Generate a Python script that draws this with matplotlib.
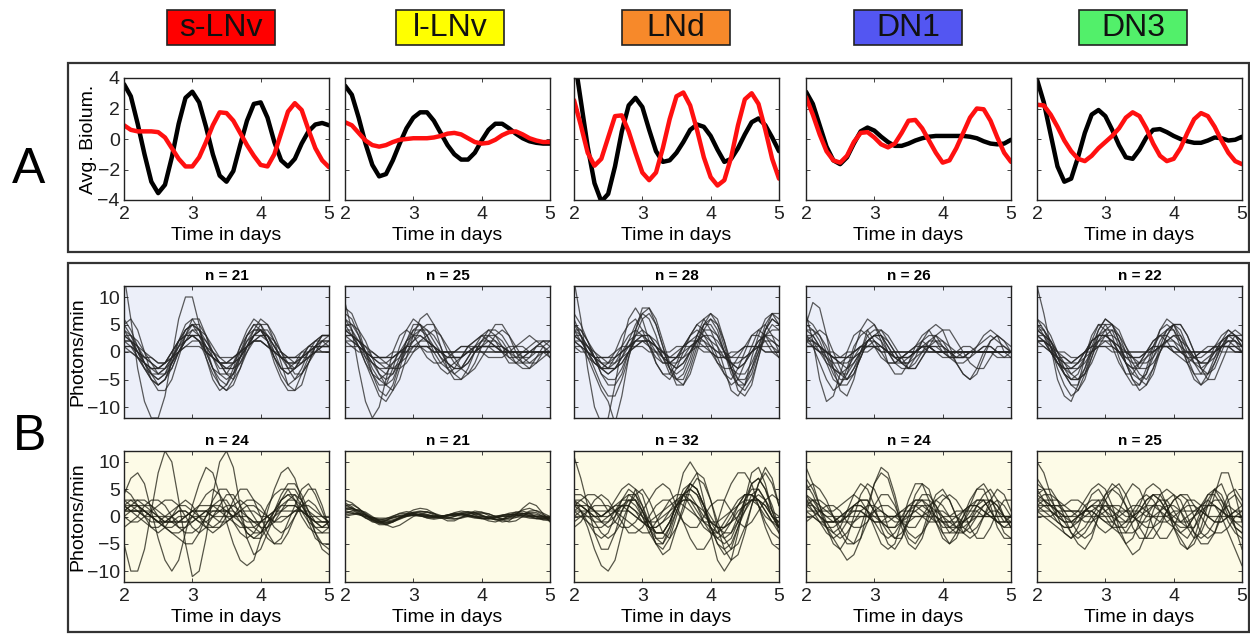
import matplotlib
matplotlib.use("Agg")
import matplotlib.pyplot as plt
from matplotlib.patches import Rectangle

plt.rcParams["font.family"] = ["Liberation Sans", "DejaVu Sans"]

W, H = 1250, 634

days = [2.0, 2.1, 2.2, 2.3, 2.4, 2.5, 2.6, 2.7, 2.8, 2.9, 3.0, 3.1, 3.2, 3.3, 3.4, 3.5,
        3.6, 3.7, 3.8, 3.9, 4.0, 4.1, 4.2, 4.3, 4.4, 4.5, 4.6, 4.7, 4.8, 4.9, 5.0]

cell_types = ["s-LNv", "l-LNv", "LNd", "DN1", "DN3"]
label_colors = ["#ff0000", "#ffff00", "#f7892a", "#5356f2", "#52f06a"]
n_top = [21, 25, 28, 26, 22]
n_bottom = [24, 21, 32, 24, 25]

# panel A: average bioluminescence, black = top row condition, red = bottom row condition
slnv_black = [3.6, 2.8, 1.0, -1.0, -2.8, -3.55, -3.0, -1.2, 1.0, 2.7, 3.1, 2.4, 0.8, -1.0, -2.4, -2.8,
              -2.1, -0.4, 1.2, 2.3, 2.4, 1.4, -0.2, -1.4, -1.8, -1.3, -0.3, 0.5, 0.95, 1.05, 0.9]
slnv_red = [0.9, 0.6, 0.5, 0.5, 0.5, 0.45, 0.1, -0.6, -1.3, -1.8, -1.8, -1.2, -0.2, 0.9, 1.75, 1.7,
            1.2, 0.4, -0.4, -1.1, -1.7, -1.8, -1.0, 0.4, 1.8, 2.35, 1.9, 0.6, -0.6, -1.4, -1.85]
llnv_black = [3.5, 2.9, 1.4, -0.3, -1.7, -2.45, -2.3, -1.4, -0.3, 0.7, 1.4, 1.75, 1.75, 1.2, 0.4, -0.4,
              -1.0, -1.35, -1.35, -0.9, -0.1, 0.6, 1.0, 1.0, 0.7, 0.35, 0.05, -0.15, -0.25, -0.3, -0.3]
llnv_red = [1.1, 0.9, 0.4, -0.1, -0.4, -0.5, -0.4, -0.2, -0.05, 0.0, 0.05, 0.05, 0.05, 0.1, 0.2, 0.35,
            0.4, 0.3, 0.05, -0.2, -0.3, -0.25, -0.05, 0.25, 0.45, 0.5, 0.3, 0.05, -0.1, -0.2, -0.2]
lnd_black = [5.5, 2.5, -0.5, -2.9, -4.1, -3.6, -1.8, 0.5, 2.2, 2.7, 2.1, 0.6, -0.8, -1.5, -1.4, -0.9,
             -0.2, 0.6, 0.95, 0.8, 0.2, -0.7, -1.5, -1.3, -0.6, 0.3, 1.1, 1.35, 0.9, 0.1, -0.8]
lnd_red = [2.55, 0.9, -0.9, -1.75, -1.3, 0.1, 1.5, 1.55, 0.5, -0.9, -2.2, -2.7, -2.2, -0.6, 1.3, 2.8,
           3.05, 2.2, 0.6, -1.2, -2.5, -3.05, -2.7, -1.2, 0.9, 2.6, 3.0, 2.3, 0.6, -1.3, -2.6]
dn1_black = [3.1, 2.3, 0.9, -0.5, -1.4, -1.65, -1.2, -0.3, 0.5, 0.75, 0.55, 0.15, -0.2, -0.45, -0.45, -0.3,
             -0.1, 0.05, 0.15, 0.2, 0.2, 0.2, 0.2, 0.2, 0.15, 0.05, -0.15, -0.3, -0.35, -0.3, -0.05]
dn1_red = [2.75, 1.6, 0.3, -0.8, -1.4, -1.55, -1.1, -0.2, 0.4, 0.45, 0.1, -0.35, -0.55, -0.3, 0.4, 1.2,
           1.25, 0.7, -0.1, -0.9, -1.55, -1.4, -0.6, 0.4, 1.4, 2.0, 1.95, 1.2, 0.1, -0.9, -1.5]
dn3_black = [3.9, 2.4, 0.3, -1.8, -2.8, -2.6, -1.2, 0.4, 1.6, 1.9, 1.5, 0.6, -0.4, -1.2, -1.3, -0.7,
             0.1, 0.6, 0.65, 0.45, 0.2, 0.0, -0.15, -0.25, -0.25, -0.1, 0.1, 0.05, -0.1, -0.05, 0.15]
dn3_red = [2.25, 2.2, 1.6, 0.8, -0.1, -0.8, -1.3, -1.45, -1.1, -0.6, -0.2, 0.2, 0.7, 1.4, 1.75, 1.5,
           0.7, -0.3, -1.1, -1.45, -1.3, -0.6, 0.4, 1.3, 1.7, 1.5, 0.8, -0.1, -0.9, -1.45, -1.65]

avg_black = [slnv_black, llnv_black, lnd_black, dn1_black, dn3_black]
avg_red = [slnv_red, llnv_red, lnd_red, dn1_red, dn3_red]

# panel B, top row: individual traces (photons/min)
slnv_top = [
    [14, 6, -3, -9, -12, -12, -8, -1, 6, 10, 10, 5, -1, -5, -7, -6, -3, 1, 4, 6, 5, 2, -2, -5, -7, -7, -4, -1, 1, 2, 2],
    [5, 6, 4, 0, -4, -6, -5, -2, 2, 5, 6, 4, 0, -3, -5, -6, -4, 0, 3, 5, 5, 3, 0, -3, -4, -3, -1, 1, 2, 3, 3],
    [3, 2, 0, -2, -4, -5, -4, -1, 2, 4, 5, 3, 0, -3, -4, -4, -2, 1, 3, 4, 4, 2, -1, -3, -4, -3, -1, 1, 2, 2, 1],
    [2, 1, -1, -3, -4, -4, -3, -1, 1, 3, 4, 3, 1, -1, -3, -3, -2, 0, 2, 3, 3, 2, 0, -1, -2, -2, -1, 0, 1, 1, 1],
    [1, 1, 0, -1, -2, -3, -3, -2, 0, 2, 3, 3, 1, -1, -2, -3, -3, -1, 1, 3, 4, 3, 1, -1, -2, -3, -2, -1, 0, 1, 1],
    [4, 3, 1, -2, -5, -7, -7, -5, -1, 3, 6, 6, 3, -1, -4, -5, -4, -1, 2, 4, 4, 2, -1, -4, -6, -5, -3, 0, 2, 3, 3],
    [1, 1, 0, -1, -1, -2, -2, -1, 0, 1, 2, 2, 1, 0, -1, -1, -1, 0, 1, 2, 2, 1, 0, -1, -1, -1, -1, 0, 0, 1, 1],
    [3, 2, 0, -2, -3, -3, -2, 0, 2, 3, 3, 2, -1, -4, -6, -7, -5, -1, 3, 5, 4, 2, -1, -3, -3, -2, 0, 1, 1, 0, 0],
    [6, 4, 1, -2, -4, -5, -4, -2, 0, 2, 4, 4, 3, 1, -1, -2, -2, -1, 1, 3, 4, 4, 2, 0, -2, -4, -4, -2, 1, 3, 3],
    [2, 2, 1, 0, -1, -2, -2, -1, 0, 1, 1, 1, 0, -1, -2, -2, -1, 0, 1, 2, 2, 1, 0, 0, -1, -1, -1, -1, 0, 0, 0],
    [4, 2, -1, -3, -5, -6, -5, -2, 1, 4, 5, 4, 1, -3, -6, -7, -6, -3, 1, 4, 6, 5, 2, -2, -6, -7, -6, -2, 1, 3, 3],
    [0, 0, -1, -2, -3, -3, -2, 0, 2, 4, 5, 4, 2, 0, -2, -3, -3, -2, 0, 2, 3, 3, 2, 0, -1, -2, -2, -1, 0, 0, 0],
    [3, 3, 2, 0, -2, -4, -4, -3, 0, 3, 5, 5, 3, 0, -2, -4, -4, -2, 1, 3, 4, 3, 1, -1, -3, -3, -2, 0, 1, 2, 2],
    [1, 0, -1, -2, -3, -4, -3, -1, 1, 2, 3, 2, 0, -1, -2, -2, -2, -1, 1, 2, 3, 3, 1, -1, -2, -2, -1, 0, 1, 1, 2],
    [5, 3, 0, -3, -5, -6, -5, -3, 0, 2, 3, 3, 2, 0, -2, -4, -5, -3, 0, 3, 5, 5, 3, 0, -3, -5, -4, -2, 0, 2, 3],
    [2, 2, 1, -1, -2, -3, -2, 0, 2, 3, 3, 2, 0, -1, -2, -2, -1, 0, 1, 2, 2, 1, 0, -1, -1, -1, 0, 0, 1, 1, 1],
]
llnv_top = [
    [9, 4, -3, -9, -12, -10, -5, 0, 3, 4, 3, 1, -1, -2, -2, -1, 0, 1, 1, 0, 0, 0, 0, 0, 0, 0, 0, 0, 0, 0, 0],
    [7, 6, 3, -1, -4, -6, -6, -3, 1, 4, 6, 5, 2, -1, -3, -4, -3, -1, 1, 2, 3, 3, 2, 0, -2, -2, -1, 0, 1, 1, 0],
    [5, 5, 4, 2, -1, -4, -6, -7, -5, -1, 3, 6, 7, 5, 1, -3, -5, -5, -3, 0, 2, 4, 4, 3, 1, -1, -2, -2, -1, 0, 0],
    [3, 2, 1, 0, -1, -1, -1, 0, 0, 1, 1, 1, 0, 0, 0, 0, 0, 0, 0, 1, 1, 1, 0, 0, 0, 0, 0, 0, 0, 0, 0],
    [6, 5, 3, 0, -3, -5, -6, -5, -2, 1, 3, 4, 4, 3, 1, -2, -4, -5, -4, -2, 1, 3, 5, 5, 3, 0, -2, -3, -2, 0, 1],
    [4, 4, 2, 0, -2, -3, -4, -4, -2, 0, 2, 4, 5, 5, 3, 0, -2, -3, -2, 0, 1, 2, 2, 1, 0, -1, -1, 0, 1, 2, 2],
    [2, 2, 1, 0, -1, -2, -2, -1, 0, 1, 1, 1, 1, 0, 0, -1, -1, -1, 0, 1, 1, 1, 1, 0, 0, 0, 0, 0, 0, 0, 0],
    [8, 7, 4, 0, -4, -7, -8, -6, -2, 2, 5, 5, 3, 0, -2, -3, -2, -1, 1, 2, 3, 2, 1, 0, -1, -1, 0, 1, 2, 2, 1],
    [3, 3, 2, 1, 0, -1, -2, -3, -3, -2, 0, 2, 3, 4, 3, 1, -1, -3, -4, -3, -1, 1, 3, 4, 3, 1, -1, -2, -2, -1, 0],
    [1, 1, 1, 0, 0, -1, -1, -1, 0, 0, 1, 1, 1, 0, 0, 0, -1, -1, 0, 0, 1, 1, 1, 1, 0, 0, -1, -1, 0, 0, 0],
    [5, 3, 1, -2, -4, -5, -4, -2, 0, 2, 3, 3, 2, 1, -1, -2, -3, -3, -2, 0, 2, 3, 3, 2, 0, -2, -3, -3, -1, 1, 2],
    [4, 3, 1, -1, -2, -3, -3, -2, -1, 1, 2, 3, 2, 1, 0, -1, -1, -1, 0, 0, 1, 1, 1, 1, 0, 0, 0, 0, 0, 0, -1],
    [6, 4, 1, -2, -5, -8, -9, -7, -3, 1, 4, 5, 4, 2, 0, -2, -3, -3, -1, 1, 2, 2, 1, 0, 0, 0, 0, 0, 0, 0, 0],
    [2, 1, 0, 0, -1, -1, -1, -1, 0, 0, 0, 1, 1, 1, 0, 0, 0, 0, 0, 0, 0, 0, 0, 0, 1, 1, 1, 0, 0, 0, 0],
    [4, 3, 2, 0, -2, -4, -5, -4, -1, 2, 4, 4, 3, 1, -1, -3, -4, -3, -1, 1, 3, 4, 3, 1, -1, -2, -2, -1, 1, 2, 2],
    [3, 3, 2, 1, -1, -2, -3, -3, -2, -1, 1, 2, 2, 1, 0, 0, 0, 1, 1, 1, 0, -1, -1, -1, 0, 1, 2, 3, 2, 1, -1],
]
lnd_top = [
    [13, 6, -3, -10, -13, -12, -6, 1, 6, 8, 6, 2, -2, -4, -4, -2, 1, 3, 4, 3, 1, -2, -4, -5, -3, 0, 3, 4, 3, 1, -1],
    [6, 3, -1, -4, -7, -9, -13, -8, -1, 4, 7, 8, 6, 2, -2, -5, -6, -4, 0, 4, 6, 5, 2, -2, -5, -6, -4, 0, 4, 6, 5],
    [4, 3, 1, -1, -3, -4, -3, -1, 2, 5, 7, 6, 3, -1, -4, -5, -4, -1, 3, 6, 7, 5, 1, -3, -6, -7, -5, -1, 3, 5, 4],
    [3, 2, 0, -2, -3, -3, -2, 0, 2, 3, 3, 2, 0, -2, -2, -2, -1, 1, 2, 3, 2, 1, -1, -2, -3, -2, 0, 2, 3, 3, 2],
    [5, 4, 2, -1, -4, -6, -6, -4, 0, 4, 8, 8, 5, 1, -3, -6, -6, -3, 1, 5, 7, 6, 2, -3, -7, -8, -6, -1, 4, 7, 7],
    [2, 1, 0, -1, -2, -2, -1, 0, 1, 2, 2, 1, 0, -1, -1, 0, 1, 2, 2, 1, 0, -1, -1, -1, 0, 1, 1, 1, 0, 0, 0],
    [3, 3, 1, -1, -4, -5, -5, -3, 0, 2, 3, 3, 1, -1, -3, -4, -3, 0, 3, 5, 5, 3, 0, -3, -4, -4, -2, 1, 4, 6, 5],
    [1, 1, 0, -1, -1, -2, -2, -1, 0, 1, 2, 2, 1, 0, -1, -1, -1, 0, 1, 1, 1, 0, 0, -1, -1, -1, 0, 1, 1, 1, 0],
    [4, 2, 0, -2, -3, -2, 0, 3, 5, 6, 4, 1, -2, -4, -5, -3, 0, 3, 5, 4, 2, -1, -4, -6, -5, -2, 1, 4, 5, 3, 0],
    [2, 2, 1, 0, -1, -1, -1, 0, 1, 2, 2, 2, 1, -1, -2, -3, -2, 0, 2, 3, 3, 2, 0, -2, -3, -2, 0, 2, 3, 2, 1],
    [7, 5, 2, -1, -3, -4, -3, -1, 1, 3, 4, 3, 1, -1, -2, -1, 1, 3, 5, 6, 4, 1, -3, -7, -8, -6, -1, 3, 6, 7, 5],
    [3, 2, 1, -1, -2, -3, -3, -2, 0, 1, 2, 2, 1, 0, -1, -1, 0, 1, 2, 2, 1, 0, -1, -2, -2, -1, 0, 1, 2, 2, 1],
    [5, 3, 0, -3, -6, -8, -8, -5, -1, 3, 6, 7, 5, 1, -3, -5, -5, -2, 2, 5, 6, 4, 0, -4, -6, -6, -3, 1, 5, 7, 6],
    [2, 1, -1, -2, -3, -3, -1, 1, 3, 4, 3, 1, -1, -2, -2, -1, 1, 2, 3, 2, 0, -2, -3, -3, -1, 1, 3, 3, 2, 0, -1],
    [4, 4, 2, 0, -2, -3, -3, -2, 0, 2, 3, 3, 2, 0, -2, -3, -2, 0, 2, 4, 4, 3, 0, -3, -5, -5, -3, 0, 3, 4, 4],
    [1, 0, 0, -1, -1, -1, 0, 1, 1, 1, 1, 0, 0, 0, 0, 1, 1, 1, 1, 0, 0, -1, -1, 0, 0, 1, 1, 1, 0, 0, 0],
]
dn1_top = [
    [5, 9, 8, 3, -3, -7, -8, -5, 0, 4, 5, 3, 0, -2, -2, -1, 0, 1, 1, 0, 0, 0, 0, 0, 0, 0, 0, 0, 0, 0, 0],
    [7, 2, -5, -9, -8, -4, 0, 3, 4, 3, 1, -1, -2, -2, -1, 0, 1, 1, 0, 0, 0, 0, 0, 0, 0, 0, 0, 0, 0, 0, 0],
    [3, 3, 1, -2, -5, -6, -4, 0, 4, 6, 5, 2, -2, -4, -4, -2, 1, 3, 4, 2, 0, -1, -1, 0, 0, 0, 0, 0, -1, -1, 0],
    [2, 1, 0, -1, -2, -2, -1, 0, 1, 1, 1, 0, 0, 0, 0, 0, 0, 0, 0, 0, 0, 0, 0, 0, 0, 0, 0, 0, 0, 0, 0],
    [4, 3, 1, -1, -3, -4, -4, -2, 0, 2, 3, 3, 2, 0, -2, -3, -2, 0, 2, 3, 2, 0, -2, -4, -5, -4, -1, 2, 3, 2, 0],
    [1, 1, 0, 0, -1, -1, -1, 0, 1, 1, 1, 1, 0, 0, 0, 0, 0, 1, 1, 1, 0, 0, 0, 0, 0, 0, 0, 0, 0, 0, 0],
    [6, 5, 3, 0, -3, -5, -5, -3, 0, 3, 4, 4, 2, 0, -2, -3, -3, -1, 1, 3, 4, 4, 2, 0, -2, -3, -3, -1, 1, 1, 0],
    [3, 2, 0, -2, -3, -4, -3, -1, 1, 2, 2, 1, 0, -1, -1, -1, 0, 1, 2, 2, 1, 0, -1, -1, 0, 1, 2, 3, 2, 1, 0],
    [2, 3, 4, 3, 0, -3, -5, -4, -1, 2, 3, 2, 0, -2, -3, -3, -1, 2, 4, 5, 4, 1, -2, -4, -5, -3, 0, 2, 3, 2, 1],
    [1, 1, 1, 0, 0, -1, -1, -1, 0, 0, 1, 1, 0, 0, 0, 0, 0, 0, 0, 0, 0, 0, 0, 0, 0, 0, 0, 0, 0, 0, 0],
    [4, 4, 3, 1, -2, -4, -5, -3, -1, 2, 3, 4, 3, 1, -1, -3, -3, -1, 1, 2, 2, 1, 0, -1, -1, 1, 3, 4, 3, 0, -1],
    [2, 2, 1, 0, -1, -2, -2, -1, 0, 1, 2, 1, 0, -1, -1, -1, 0, 1, 1, 0, 0, -1, -1, -1, 0, 0, 1, 1, 0, -1, -1],
    [3, 1, -2, -5, -7, -6, -3, 1, 3, 4, 2, 0, -2, -2, -1, 0, 1, 2, 1, 0, -1, -1, 0, 1, 1, 0, 0, 0, 0, 0, 0],
    [2, 2, 1, 0, -1, -2, -3, -2, 0, 2, 3, 3, 1, -1, -2, -2, -1, 0, 1, 1, 1, 0, 0, 0, 0, 0, 0, 0, 0, 0, 0],
    [5, 4, 2, -1, -4, -6, -6, -4, -1, 2, 3, 3, 1, -1, -2, -2, 0, 2, 3, 3, 1, -1, -2, -2, -1, 0, 0, 0, 0, 0, 0],
    [1, 1, 0, 0, -1, -1, 0, 0, 1, 1, 1, 0, 0, -1, -1, 0, 0, 1, 1, 0, 0, 0, -1, -1, 0, 0, 1, 1, 0, 0, 0],
]
dn3_top = [
    [12, 7, 1, -5, -8, -9, -6, -1, 3, 5, 4, 1, -2, -4, -4, -2, 0, 2, 3, 2, 0, -1, -2, -1, 0, 1, 1, 0, 0, 0, 0],
    [5, 4, 2, -1, -4, -6, -6, -3, 1, 4, 6, 5, 2, -2, -5, -6, -4, 0, 4, 6, 5, 2, -2, -5, -6, -4, -1, 2, 4, 3, 1],
    [3, 2, 0, -2, -3, -3, -2, 0, 2, 3, 3, 2, 0, -2, -3, -2, 0, 2, 3, 3, 2, 0, -1, -2, -2, -1, 0, 1, 2, 2, 1],
    [6, 5, 3, 0, -3, -5, -5, -4, -1, 2, 4, 5, 4, 1, -2, -4, -5, -3, 0, 3, 5, 5, 3, 0, -3, -4, -3, 0, 3, 4, 3],
    [2, 1, 0, -1, -2, -2, -1, 0, 1, 2, 2, 1, 0, -1, -1, -1, 0, 1, 1, 1, 0, 0, -1, -1, 0, 0, 1, 1, 1, 0, 0],
    [4, 3, 1, -2, -4, -5, -4, -1, 2, 5, 5, 3, -1, -4, -6, -6, -3, 1, 4, 5, 4, 1, -2, -4, -4, -2, 1, 3, 4, 3, 1],
    [1, 1, 0, -1, -1, -2, -1, 0, 1, 1, 1, 1, 0, 0, -1, -1, 0, 0, 1, 1, 1, 0, 0, 0, 0, 0, 0, 1, 1, 1, 0],
    [3, 3, 2, 0, -2, -4, -5, -4, -2, 1, 3, 4, 3, 1, -1, -3, -3, -2, 0, 2, 3, 3, 1, -1, -2, -2, 0, 2, 3, 2, 0],
    [2, 2, 1, -1, -3, -4, -3, -1, 2, 3, 3, 2, 0, -2, -3, -3, -1, 1, 3, 4, 4, 2, -1, -4, -6, -5, -2, 1, 3, 3, 2],
    [5, 3, 0, -2, -3, -3, -2, 0, 2, 3, 3, 2, 1, -1, -2, -2, -1, 0, 1, 2, 2, 1, 0, -1, -1, 0, 1, 2, 2, 1, 0],
    [2, 2, 1, 0, 0, -1, -1, 0, 0, 1, 1, 0, 0, 0, 0, 0, 0, 0, 1, 1, 0, 0, 0, 0, 0, 0, 0, 1, 1, 1, 1],
    [4, 4, 2, -1, -4, -6, -7, -5, -1, 3, 5, 5, 3, 0, -3, -5, -6, -4, 0, 3, 5, 5, 3, 0, -3, -5, -5, -2, 1, 3, 3],
    [6, 4, 1, -3, -6, -8, -7, -4, 0, 4, 6, 5, 2, -2, -4, -5, -4, -1, 2, 4, 5, 3, 0, -2, -3, -2, 0, 2, 3, 3, 2],
    [3, 2, 1, -1, -2, -3, -3, -2, 0, 2, 3, 3, 2, 0, -1, -2, -2, -1, 1, 2, 3, 2, 1, -1, -2, -2, -1, 1, 2, 2, 1],
    [2, 2, 0, -2, -4, -5, -5, -3, 0, 3, 4, 4, 1, -2, -5, -7, -6, -3, 1, 4, 5, 4, 1, -2, -4, -4, -2, 1, 3, 3, 2],
    [4, 3, 2, 0, -1, -2, -2, -1, 0, 1, 2, 2, 1, 0, 0, 0, 0, 1, 1, 1, 1, 0, 0, 0, 0, 0, 1, 1, 1, 0, 0],
]

# panel B, bottom row
slnv_bottom = [
    [-5, -10, -10, -6, 1, 8, 12, 10, 3, -5, -11, -10, -4, 4, 10, 12, 9, 2, -4, -7, -6, -3, 0, 3, 4, 3, 1, -1, -2, -2, -1],
    [4, 7, 8, 6, 1, -4, -8, -10, -8, -3, 2, 6, 9, 8, 4, -1, -5, -8, -9, -8, -4, 1, 5, 8, 9, 7, 3, -1, -4, -5, -5],
    [2, 2, 2, 1, 0, -1, -2, -2, -1, 0, 1, 2, 2, 2, 1, 0, -1, -2, -2, -2, -1, 0, 1, 2, 2, 2, 1, 0, -1, -1, -1],
    [1, 1, 1, 1, 0, 0, -1, -1, -1, -1, 0, 0, 1, 1, 1, 1, 0, 0, -1, -1, -1, 0, 1, 1, 2, 2, 1, 0, -1, -1, -1],
    [3, 3, 2, 1, 0, -1, -2, -3, -4, -5, -5, -3, 0, 3, 5, 5, 3, 0, -3, -4, -4, -2, 1, 4, 6, 6, 4, 1, -3, -6, -7],
    [0, 1, 2, 2, 2, 1, 0, -1, -2, -2, -1, 0, 1, 2, 2, 1, 0, -1, -2, -3, -3, -1, 1, 3, 4, 4, 2, 0, -2, -3, -3],
    [1, 2, 3, 3, 2, 0, -2, -3, -3, -2, 0, 2, 4, 5, 4, 2, -1, -3, -4, -3, -1, 2, 4, 5, 5, 3, 0, -2, -3, -3, -2],
    [2, 1, 0, -1, -2, -2, -1, 0, 1, 1, 0, -1, -2, -2, -1, 1, 2, 3, 2, 0, -2, -4, -5, -4, -1, 2, 5, 6, 4, 1, -2],
    [1, 1, 1, 1, 1, 0, 0, 0, -1, -1, -1, 0, 0, 1, 1, 1, 1, 0, 0, -1, -1, -1, 0, 1, 1, 1, 1, 0, 0, -1, -1],
    [0, -1, -1, 0, 1, 2, 3, 3, 2, 0, -2, -3, -2, 0, 2, 4, 4, 2, 0, -2, -3, -2, 0, 2, 3, 3, 2, 0, -1, -2, -1],
    [3, 2, 1, 0, -1, -1, 0, 1, 2, 2, 1, 0, -1, -2, -2, -1, 0, 2, 3, 3, 2, 0, -2, -3, -2, 0, 2, 3, 2, 0, -1],
    [2, 3, 3, 2, 1, 0, -1, -1, -1, 0, 1, 1, 1, 0, -1, -1, 0, 1, 2, 2, 1, 0, -1, -1, 0, 1, 2, 2, 1, 0, 0],
    [1, 2, 2, 1, 0, -1, -1, 0, 1, 1, 0, -1, -1, 0, 1, 2, 2, 1, 0, -1, -2, -2, -1, 1, 3, 4, 3, 1, -1, -2, -2],
    [-2, -1, 0, 2, 3, 3, 2, 0, -2, -3, -3, -2, 0, 2, 3, 3, 1, -1, -3, -4, -3, -1, 1, 3, 5, 5, 3, 0, -3, -5, -6],
    [2, 1, 1, 0, 0, -1, -1, -1, 0, 0, 1, 1, 1, 0, 0, 0, 0, 1, 1, 1, 0, 0, -1, 0, 0, 1, 1, 1, 0, 0, -1],
    [5, 4, 2, 0, -2, -3, -2, 0, 2, 3, 2, 0, -2, -3, -2, 0, 3, 5, 5, 3, 0, -3, -5, -5, -3, 0, 3, 5, 5, 2, -2],
]
llnv_bottom = [
    [1.5, 1.2, 0.5, -0.3, -0.8, -1.0, -0.7, -0.2, 0.2, 0.4, 0.5, 0.4, 0.2, 0.0, 0.0, 0.3, 0.6, 0.6, 0.3, 0.0, -0.3, -0.4, -0.3, 0.0, 0.3, 0.5, 0.5, 0.2, 0.0, -0.2, -0.2],
    [3.0, 2.5, 1.5, 0.3, -0.8, -1.5, -1.5, -1.0, -0.3, 0.3, 0.8, 1.0, 0.8, 0.3, -0.2, -0.3, 0.0, 0.5, 0.8, 0.7, 0.3, -0.2, -0.6, -0.6, -0.2, 0.5, 1.2, 1.5, 1.0, 0.3, -0.3],
    [0.5, 1.0, 1.2, 0.8, 0.0, -0.8, -1.5, -2.0, -1.6, -0.8, 0.0, 0.5, 0.8, 0.6, 0.2, -0.2, -0.4, -0.3, 0.0, 0.4, 0.6, 0.5, 0.0, -0.6, -1.0, -0.8, 0.0, 0.8, 0.7, 0.0, -0.8],
    [1.0, 0.8, 0.4, 0.0, -0.3, -0.5, -0.5, -0.3, 0.0, 0.2, 0.3, 0.3, 0.2, 0.1, 0.1, 0.2, 0.3, 0.3, 0.2, 0.1, 0.0, -0.1, -0.1, 0.0, 0.1, 0.2, 0.2, 0.1, 0.0, 0.0, -0.1],
    [2.0, 2.2, 1.5, 0.5, -0.5, -1.2, -1.5, -1.0, -0.3, 0.5, 1.2, 1.5, 1.3, 0.6, -0.2, -0.8, -0.8, -0.2, 0.5, 1.0, 0.8, 0.2, -0.5, -1.0, -0.8, 0.2, 1.5, 2.5, 2.0, 0.5, -1.0],
    [0.0, 0.3, 0.5, 0.3, -0.2, -0.6, -0.8, -0.6, -0.2, 0.0, 0.2, 0.1, -0.1, -0.2, 0.0, 0.3, 0.5, 0.4, 0.0, -0.3, -0.4, -0.3, 0.0, 0.3, 0.4, 0.3, 0.0, -0.3, -0.4, -0.3, -0.2],
    [1.5, 1.5, 1.0, 0.3, -0.5, -1.0, -1.2, -1.0, -0.5, 0.0, 0.3, 0.4, 0.3, 0.1, -0.1, 0.0, 0.3, 0.7, 0.9, 0.7, 0.2, -0.3, -0.6, -0.6, -0.3, 0.1, 0.5, 0.6, 0.4, 0.0, -0.4],
    [2.5, 1.8, 0.8, -0.2, -1.0, -1.2, -0.8, 0.0, 0.6, 0.9, 0.7, 0.2, -0.3, -0.5, -0.3, 0.2, 0.7, 1.0, 0.8, 0.3, -0.3, -0.8, -1.0, -0.6, 0.2, 0.8, 1.0, 0.6, -0.1, -0.6, -0.8],
    [0.8, 0.6, 0.3, 0.0, -0.2, -0.3, -0.3, -0.1, 0.1, 0.2, 0.2, 0.1, 0.0, 0.0, 0.1, 0.2, 0.2, 0.1, 0.0, -0.1, -0.1, 0.0, 0.1, 0.1, 0.0, -0.1, -0.1, 0.0, 0.1, 0.1, 0.0],
    [1.2, 1.4, 1.2, 0.6, -0.2, -0.8, -1.0, -0.8, -0.4, 0.1, 0.6, 0.9, 0.9, 0.5, 0.0, -0.4, -0.5, -0.2, 0.3, 0.7, 0.8, 0.5, 0.0, -0.4, -0.5, -0.2, 0.4, 1.0, 1.1, 0.6, 0.0],
    [1.8, 1.6, 1.0, 0.2, -0.6, -1.2, -1.3, -0.9, -0.2, 0.4, 0.7, 0.7, 0.4, 0.0, -0.3, -0.3, 0.0, 0.4, 0.6, 0.5, 0.1, -0.3, -0.5, -0.4, 0.0, 0.4, 0.6, 0.4, 0.0, -0.3, -0.5],
    [0.3, 0.5, 0.6, 0.3, -0.3, -0.9, -1.1, -0.8, -0.2, 0.3, 0.5, 0.3, 0.0, -0.2, -0.2, 0.1, 0.4, 0.5, 0.3, -0.1, -0.4, -0.5, -0.2, 0.2, 0.6, 0.8, 0.6, 0.1, -0.4, -0.6, -0.5],
    [2.2, 1.5, 0.6, -0.2, -0.6, -0.7, -0.4, 0.1, 0.5, 0.6, 0.4, 0.1, -0.2, -0.3, -0.1, 0.2, 0.4, 0.4, 0.2, -0.1, -0.3, -0.3, -0.1, 0.2, 0.4, 0.4, 0.2, -0.1, -0.3, -0.4, -0.3],
]
lnd_bottom = [
    [11, 7, 2, -3, -6, -6, -3, 1, 4, 4, 2, -1, -3, -3, -1, 2, 4, 4, 2, -1, -3, -4, -3, -1, 2, 4, 4, 2, -1, -3, -4],
    [3, 1, -2, -6, -9, -10, -8, -3, 2, 5, 4, 0, -4, -5, -2, 3, 8, 10, 8, 3, -3, -8, -10, -8, -3, 3, 8, 9, 6, 1, -3],
    [2, 3, 4, 4, 3, 1, -1, -2, -2, -1, 1, 3, 5, 6, 5, 2, -1, -4, -6, -6, -4, -1, 3, 6, 8, 8, 6, 2, -2, -5, -6],
    [1, 1, 0, -1, -1, 0, 1, 2, 2, 1, -1, -2, -2, -1, 1, 3, 4, 3, 1, -1, -2, -3, -2, 0, 2, 4, 4, 3, 1, -1, -2],
    [4, 4, 3, 1, 0, 1, 3, 5, 6, 5, 2, -2, -5, -6, -4, 0, 4, 6, 5, 2, -2, -5, -7, -6, -2, 2, 6, 7, 5, 2, -2],
    [0, 0, 0, 0, 0, 1, 1, 2, 2, 1, 0, -1, -1, 0, 1, 2, 3, 3, 2, 0, -1, -2, -2, -1, 1, 2, 3, 3, 2, 0, -1],
    [2, 2, 1, -1, -3, -4, -3, -1, 2, 4, 5, 3, 0, -3, -4, -2, 1, 5, 7, 6, 3, -1, -4, -6, -5, -2, 2, 6, 8, 6, 2],
    [-1, 0, 1, 2, 2, 2, 1, 0, -1, -2, -3, -3, -1, 1, 3, 4, 4, 2, 0, -2, -3, -3, -1, 1, 3, 4, 4, 3, 1, -1, -3],
    [1, 2, 2, 1, -1, -2, -1, 1, 3, 3, 1, -2, -4, -4, -2, 1, 4, 5, 4, 1, -2, -5, -6, -5, -2, 1, 4, 5, 3, 0, -2],
    [3, 2, 1, 0, 0, 1, 2, 2, 1, 0, -1, -1, 0, 1, 2, 3, 2, 1, 0, -1, -1, -1, 0, 1, 2, 3, 3, 2, 0, -1, -1],
    [2, 1, -1, -3, -4, -3, 0, 3, 5, 4, 1, -2, -5, -7, -6, -2, 2, 6, 8, 7, 3, -2, -6, -8, -7, -3, 2, 6, 9, 7, 2],
    [0, 1, 1, 1, 1, 1, 2, 3, 3, 2, 0, -2, -3, -3, -1, 2, 4, 5, 4, 2, 0, -2, -3, -3, -1, 1, 3, 4, 3, 1, 0],
    [2, 2, 1, 0, -1, -1, 0, 2, 3, 3, 1, -1, -3, -3, -1, 2, 5, 6, 5, 2, -1, -3, -4, -3, 0, 3, 5, 5, 3, 0, -2],
    [1, 0, -1, -2, -2, -1, 1, 3, 4, 3, 0, -3, -5, -5, -3, 1, 4, 6, 5, 2, -2, -4, -5, -4, -1, 3, 6, 7, 5, 1, -2],
    [3, 3, 2, 1, 0, 0, 1, 1, 1, 0, -1, -2, -2, -1, 0, 2, 3, 3, 2, 1, -1, -2, -2, -1, 0, 2, 3, 3, 2, 0, -1],
    [-2, -1, 1, 3, 4, 3, 1, -1, -3, -3, -2, 0, 2, 3, 3, 1, -1, -2, -2, 0, 2, 3, 3, 1, -1, -2, -1, 1, 3, 4, 3],
]
dn1_bottom = [
    [9, 6, 2, -2, -5, -6, -4, 0, 4, 6, 5, 2, -2, -4, -4, -1, 2, 4, 4, 2, -1, -3, -3, -1, 1, 3, 3, 1, -1, -2, -1],
    [5, 6, 5, 3, 0, -3, -5, -5, -2, 2, 6, 8, 7, 3, -2, -5, -6, -4, 0, 3, 4, 3, 0, -2, -3, -2, 0, 2, 3, 2, 0],
    [3, 2, 0, -2, -4, -6, -8, -7, -4, 1, 6, 9, 8, 4, -1, -4, -5, -3, 1, 4, 5, 3, 0, -3, -4, -3, 0, 3, 5, 4, 1],
    [2, 1, 0, -1, -1, -1, 0, 1, 1, 0, -1, -1, -1, 0, 1, 2, 2, 1, 0, -1, -1, -1, 0, 1, 2, 2, 1, 0, -1, -1, -1],
    [6, 4, 1, -2, -3, -2, 1, 4, 6, 5, 2, -2, -5, -6, -4, 0, 4, 6, 5, 1, -3, -5, -4, -1, 2, 5, 6, 4, 0, -3, -4],
    [1, 1, 1, 0, 0, -1, -1, -1, 0, 0, 1, 1, 0, 0, -1, -1, 0, 0, 1, 1, 1, 0, 0, -1, -1, 0, 0, 1, 1, 0, 0],
    [4, 3, 1, 0, -1, -1, 0, 2, 3, 3, 1, -1, -3, -4, -3, -1, 2, 3, 3, 2, 0, -2, -3, -3, -1, 2, 4, 5, 3, 0, -2],
    [2, 3, 3, 2, 0, -2, -4, -5, -4, -1, 2, 4, 4, 2, -1, -3, -4, -3, -1, 1, 3, 4, 3, 1, -2, -4, -4, -2, 1, 3, 3],
    [0, 0, -1, -1, -1, 0, 1, 1, 1, 0, -1, -1, 0, 0, 1, 1, 1, 0, -1, -1, 0, 0, 1, 1, 1, 1, 0, 0, -1, -1, 0],
    [7, 5, 2, -1, -3, -4, -3, -1, 1, 2, 2, 1, 0, -1, -1, 0, 1, 2, 2, 1, 0, -1, -2, -2, -1, 1, 2, 3, 2, 0, -2],
    [3, 3, 2, 1, 1, 2, 3, 4, 3, 1, -2, -5, -6, -5, -1, 3, 6, 6, 3, -1, -4, -5, -3, 0, 3, 5, 5, 2, -2, -4, -4],
    [1, 0, -1, -2, -2, -1, 1, 2, 2, 1, 0, -1, -2, -2, -1, 1, 2, 2, 1, 0, -1, -2, -2, -1, 0, 2, 3, 3, 1, -1, -1],
    [3, 1, -1, -3, -4, -3, -1, 2, 3, 3, 1, -1, -2, -2, 0, 2, 3, 3, 1, -1, -3, -3, -2, 0, 2, 3, 3, 1, -1, -2, -2],
    [-1, 0, 1, 2, 2, 1, -1, -2, -2, -1, 1, 2, 2, 1, -1, -2, -2, 0, 2, 3, 2, 0, -2, -3, -2, 0, 2, 3, 2, 0, -1],
    [4, 2, 0, -1, -1, 0, 1, 2, 2, 1, -1, -3, -4, -3, -1, 1, 3, 3, 2, 0, -2, -2, -1, 1, 2, 2, 1, 0, 0, 0, 0],
    [2, 2, 1, 1, 0, 0, 0, 0, 0, 0, 0, 0, 0, 0, 0, 0, 0, 0, 0, 0, -1, -1, -1, -1, 0, 0, 0, 0, 0, 0, 0],
]
dn3_bottom = [
    [10, 8, 4, 0, -3, -4, -2, 1, 4, 5, 3, 0, -3, -5, -4, -1, 2, 4, 4, 2, -1, -3, -4, -2, 1, 4, 5, 3, 0, -2, -3],
    [4, 5, 5, 3, 0, -3, -5, -6, -4, 0, 4, 6, 5, 2, -2, -4, -4, -2, 1, 3, 4, 3, 0, -3, -5, -5, -3, 1, 4, 5, 3],
    [2, 2, 2, 1, 0, -1, -1, 0, 1, 2, 2, 1, 0, -1, -1, 0, 1, 2, 2, 1, 0, -1, -1, 0, 1, 2, 2, 1, 0, -1, -1],
    [6, 5, 3, 1, 0, 0, 1, 3, 5, 6, 5, 2, -2, -5, -7, -6, -3, 1, 4, 5, 4, 1, -2, -4, -3, 0, 4, 8, 8, 4, -1],
    [1, 2, 2, 1, -1, -3, -4, -3, -1, 1, 2, 2, 1, 0, 0, 1, 3, 4, 3, 1, -2, -4, -6, -5, -2, 2, 5, 6, 3, -2, -6],
    [3, 3, 2, 2, 1, 1, 1, 1, 1, 0, -1, -2, -2, -1, 1, 3, 4, 3, 1, -1, -2, -3, -2, 0, 2, 3, 2, 0, -3, -6, -9],
    [0, 0, 0, 1, 1, 1, 1, 0, 0, 0, 0, 0, 1, 1, 1, 1, 0, 0, 0, 0, 1, 1, 1, 1, 1, 0, 0, 0, 0, 0, 0],
    [5, 3, 1, -1, -2, -2, 0, 2, 3, 3, 1, -1, -2, -2, 0, 2, 5, 6, 5, 2, -2, -5, -6, -4, 0, 3, 5, 4, 1, -2, -3],
    [2, 1, 1, 0, 0, 0, 0, 1, 2, 2, 1, 0, -1, -1, 0, 1, 2, 2, 1, 0, -1, -1, 0, 1, 2, 2, 2, 1, 0, 0, 0],
    [3, 4, 4, 3, 1, -1, -3, -4, -3, 0, 3, 5, 6, 4, 1, -2, -4, -4, -2, 1, 3, 4, 3, 0, -3, -4, -3, 0, 3, 4, 2],
    [1, 1, 0, -1, -2, -2, -1, 1, 2, 3, 3, 1, -1, -3, -3, -2, 0, 2, 3, 3, 1, -1, -2, -2, 0, 2, 3, 3, 1, -1, -2],
    [4, 3, 2, 2, 2, 3, 3, 2, 0, -2, -3, -2, 1, 4, 6, 5, 2, -2, -4, -4, -2, 1, 3, 3, 2, 0, -1, -1, 0, 1, 2],
    [3, 2, 1, 0, -1, -1, 0, 1, 2, 1, 0, -2, -3, -3, -1, 1, 3, 4, 3, 1, -1, -2, -2, 0, 2, 4, 4, 2, -1, -3, -4],
    [7, 5, 2, 0, -1, -1, 0, 1, 1, 0, -1, -1, 0, 1, 2, 2, 1, 0, -1, -1, 0, 1, 2, 2, 1, 0, -1, -1, 0, 1, 1],
    [1, 0, -1, -2, -3, -4, -3, -2, 0, 2, 4, 5, 4, 2, 0, -1, -1, 0, 1, 2, 2, 1, -1, -3, -4, -3, -1, 1, 2, 1, 0],
    [2, 3, 3, 3, 2, 1, 0, -1, -1, 0, 1, 2, 2, 1, 0, -1, -2, -2, -1, 1, 3, 4, 4, 2, 0, -2, -3, -3, -2, 0, 1],
]

traces_top = [slnv_top, llnv_top, lnd_top, dn1_top, dn3_top]
traces_bottom = [slnv_bottom, llnv_bottom, lnd_bottom, dn1_bottom, dn3_bottom]

col_left = [124, 345, 574, 806, 1037]
col_width = 205
top_bg = "#eceff9"
bottom_bg = "#fdfbe7"

fig = plt.figure(figsize=(W / 100, H / 100), dpi=100)


def fx(x):
    return x / W


def fy(y):
    return 1 - y / H


def add_ax(x0, y_top, y_bot):
    return fig.add_axes([fx(x0), fy(y_bot), col_width / W, (y_bot - y_top) / H])


def style_ax(ax, ylim, yticks, xlabels, ylabel, first):
    ax.set_xlim(2, 5)
    ax.set_ylim(*ylim)
    ax.set_xticks([2, 3, 4, 5])
    ax.set_yticks(yticks)
    ax.tick_params(direction="in", length=3, width=0.6, top=True, right=True,
                   labelsize=14, colors="#222222")
    ax.tick_params(axis="x", pad=4)
    ax.tick_params(axis="y", pad=3)
    for s in ax.spines.values():
        s.set_linewidth(1.0)
        s.set_color("#222222")
    if xlabels:
        ax.set_xlabel("Time in days", fontsize=14, labelpad=3)
    else:
        ax.set_xticklabels([])
    if first:
        ax.set_ylabel(ylabel, fontsize=14, labelpad=0)
    else:
        ax.set_yticklabels([])


# colored cell-type labels
label_centers = [221, 450, 676, 908, 1133]
for name, col, cx in zip(cell_types, label_colors, label_centers):
    fig.patches.append(Rectangle((fx(cx - 54), fy(45)), 108 / W, 35 / H, transform=fig.transFigure,
                                 facecolor=col, edgecolor="#222222", lw=1.2))
    fig.text(fx(cx), fy(28), name, ha="center", va="center", fontsize=23, color="#111111")

# outer frames of panels A and B
fig.patches.append(Rectangle((fx(68), fy(252)), (1249 - 68) / W, 189 / H, transform=fig.transFigure,
                             fill=False, edgecolor="#333333", lw=1.6))
fig.patches.append(Rectangle((fx(68), fy(632)), (1249 - 68) / W, 369 / H, transform=fig.transFigure,
                             fill=False, edgecolor="#333333", lw=1.6))
fig.text(fx(29), fy(170), "A", ha="center", va="center", fontsize=36)
fig.text(fx(30), fy(437), "B", ha="center", va="center", fontsize=36)

for i in range(5):
    # panel A
    ax = add_ax(col_left[i], 78, 200)
    ax.plot(days, avg_black[i], color="black", lw=3.2, solid_capstyle="round")
    ax.plot(days, avg_red[i], color="#ff1010", lw=3.2, solid_capstyle="round")
    style_ax(ax, (-4, 4), [-4, -2, 0, 2, 4], True, "Avg. Biolum.", i == 0)

    # panel B top row
    ax = add_ax(col_left[i], 286, 418)
    ax.set_facecolor(top_bg)
    for tr in traces_top[i]:
        ax.plot(days, tr, color="#262626", lw=0.9, alpha=0.75)
    ax.set_title(f"n = {n_top[i]}", fontsize=11, fontweight="bold", pad=4)
    style_ax(ax, (-12, 12), [-10, -5, 0, 5, 10], False, "Photons/min", i == 0)

    # panel B bottom row
    ax = add_ax(col_left[i], 451, 582)
    ax.set_facecolor(bottom_bg)
    for tr in traces_bottom[i]:
        ax.plot(days, tr, color="#1e1e12", lw=0.9, alpha=0.75)
    ax.set_title(f"n = {n_bottom[i]}", fontsize=11, fontweight="bold", pad=4)
    style_ax(ax, (-12, 12), [-10, -5, 0, 5, 10], True, "Photons/min", i == 0)

fig.savefig("out.png", dpi=100)
